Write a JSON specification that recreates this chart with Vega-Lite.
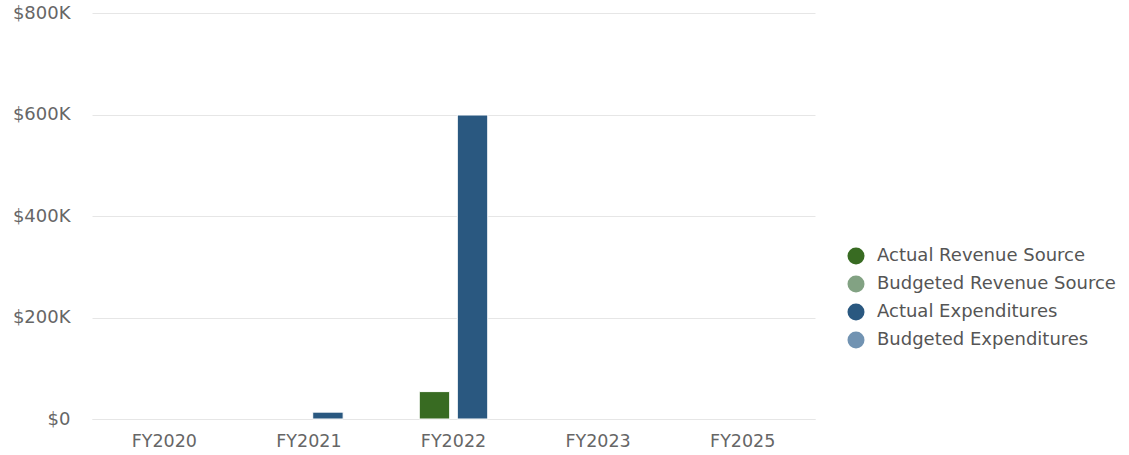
{
  "$schema": "https://vega.github.io/schema/vega-lite/v6.json",
  "autosize": {"type": "none"},
  "padding": {"left": 92, "top": 13, "right": 314, "bottom": 36},
  "width": 723,
  "height": 406,
  "background": "white",
  "config": {
    "font": "DejaVu Sans",
    "view": {"stroke": null}
  },
  "data": {
    "values": [
      {"year": "FY2021", "series": "Actual Expenditures", "amount": 13500},
      {"year": "FY2022", "series": "Actual Revenue Source", "amount": 54000},
      {"year": "FY2022", "series": "Actual Expenditures", "amount": 599000}
    ]
  },
  "mark": {"type": "bar", "stroke": "white", "strokeWidth": 1},
  "encoding": {
    "x": {
      "field": "year",
      "type": "nominal",
      "scale": {"domain": ["FY2020", "FY2021", "FY2022", "FY2023", "FY2025"], "paddingInner": 0, "paddingOuter": 0},
      "axis": {
        "title": null,
        "labelAngle": 0,
        "ticks": false,
        "labelPadding": 13,
        "labelFontSize": 17.5,
        "labelColor": "#666666",
        "domainColor": "#e6e6e6",
        "grid": false
      }
    },
    "xOffset": {
      "field": "series",
      "type": "nominal",
      "scale": {"domain": ["Actual Revenue Source", "Actual Expenditures"], "paddingInner": 0.2, "paddingOuter": 1.2}
    },
    "y": {
      "field": "amount",
      "type": "quantitative",
      "scale": {"domain": [0, 800000], "nice": false},
      "axis": {
        "title": null,
        "values": [0, 200000, 400000, 600000, 800000],
        "labelExpr": "datum.value == 0 ? '$0' : '$' + (datum.value / 1000) + 'K'",
        "ticks": false,
        "domain": false,
        "labelPadding": 22,
        "labelFontSize": 18,
        "labelColor": "#666666",
        "gridColor": "#e6e6e6",
        "gridWidth": 1
      }
    },
    "color": {
      "field": "series",
      "type": "nominal",
      "scale": {
        "domain": ["Actual Revenue Source", "Budgeted Revenue Source", "Actual Expenditures", "Budgeted Expenditures"],
        "range": ["#386b22", "#82a283", "#2a5880", "#7193b2"]
      },
      "legend": {
        "title": null,
        "orient": "none",
        "legendX": 755,
        "legendY": 234,
        "symbolType": "circle",
        "symbolSize": 289,
        "symbolOpacity": 1,
        "symbolStrokeWidth": 0,
        "labelFontSize": 18,
        "labelColor": "#555555",
        "labelOffset": 12,
        "rowPadding": 10,
        "labelLimit": 400
      }
    }
  }
}
